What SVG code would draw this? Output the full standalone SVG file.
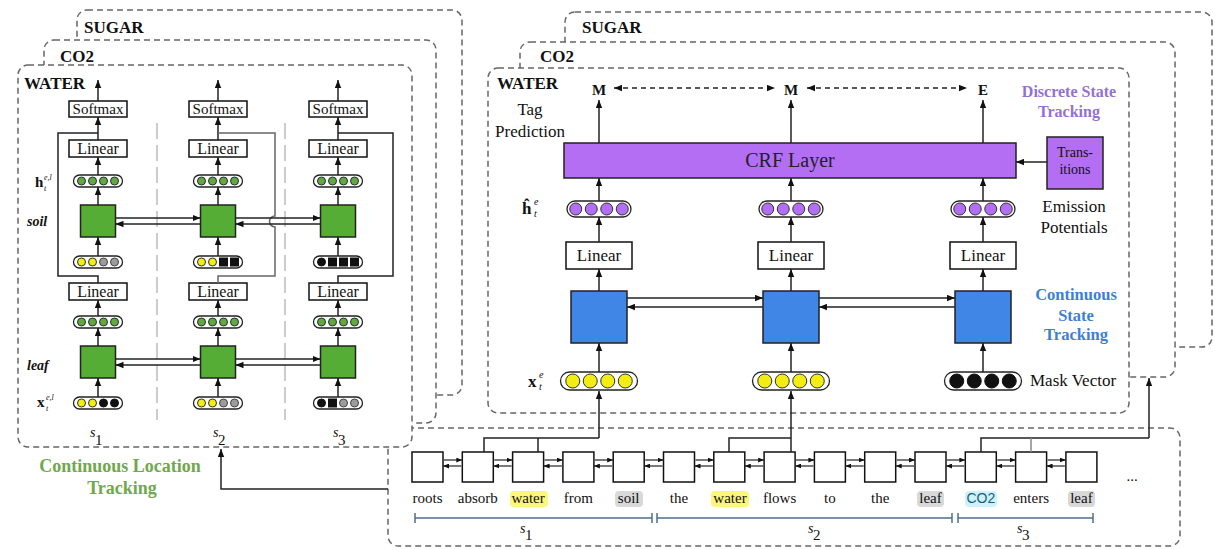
<svg xmlns="http://www.w3.org/2000/svg" width="1215" height="549" viewBox="0 0 1215 549">
<style>
text{font-family:"Liberation Serif","Times New Roman",serif;fill:#111}
.frame{fill:#fff;stroke:#666;stroke-width:1.5;stroke-dasharray:6 4}
.box{fill:#fff;stroke:#111;stroke-width:1.5}
.gbox{fill:#55ad35;stroke:#222;stroke-width:1.5}
.bbox{fill:#3f86e6;stroke:#222;stroke-width:1.5}
.pbox{fill:#b46ef4;stroke:#222;stroke-width:1.5}
.pill{fill:#fff;stroke:#222;stroke-width:1.3}
.g{fill:#62a83f;stroke:#233;stroke-width:1}
.y{fill:#f3ee12;stroke:#333;stroke-width:1}
.k{fill:#111;stroke:#111;stroke-width:1}
.gr{fill:#9c9c9c;stroke:#444;stroke-width:1}
.p{fill:#b46ef4;stroke:#333;stroke-width:1}
.ar{fill:none;stroke:#222;stroke-width:1.5;marker-end:url(#ah)}
.ln{fill:none;stroke:#222;stroke-width:1.5}
.sa{fill:none;stroke:#222;stroke-width:1.2;marker-end:url(#as)}
.sep{stroke:#999;stroke-width:1;stroke-dasharray:16 6}
.brk{stroke:#4d6f8c;stroke-width:1.5;fill:none}
.ttl{font-weight:bold;font-size:17px}
.lab{font-size:17px}
.lin{font-size:16px}
.sm{font-size:15px}
.w{font-size:15px;text-anchor:middle}
.mid{text-anchor:middle}
</style>
<defs>
<marker id="ah" viewBox="0 0 10 8" refX="10" refY="4" markerWidth="8" markerHeight="7" markerUnits="userSpaceOnUse" orient="auto-start-reverse"><path d="M0,0 L10,4 L0,8 z" fill="#111"/></marker>
<marker id="as" viewBox="0 0 10 8" refX="10" refY="4" markerWidth="6" markerHeight="5" markerUnits="userSpaceOnUse" orient="auto"><path d="M0,0 L10,4 L0,8 z" fill="#111"/></marker>
</defs>

<!-- sentence frame -->
<g id="sentence-frame"><rect class="frame" x="388" y="428" width="792" height="118" rx="10"/></g>

<!-- left panel frames -->
<g id="left-sugar"><rect class="frame" x="77" y="10" width="385" height="385" rx="10"/><text class="ttl" x="84" y="33">SUGAR</text></g>
<g id="left-co2"><rect class="frame" x="44" y="40" width="392" height="383" rx="10"/><text class="ttl" x="60" y="62">CO2</text></g>
<g id="left-water"><rect class="frame" x="18" y="65" width="394" height="382" rx="10"/><text class="ttl" x="24" y="89">WATER</text></g>

<!-- right panel frames -->
<g id="right-sugar"><rect class="frame" x="565" y="12" width="647" height="335" rx="10"/><text class="ttl" x="582" y="33">SUGAR</text></g>
<g id="right-co2"><rect class="frame" x="520" y="42" width="655" height="335" rx="10"/><text class="ttl" x="540" y="62">CO2</text></g>
<g id="right-water"><rect class="frame" x="488" y="68" width="641" height="345" rx="10"/><text class="ttl" x="497" y="89">WATER</text></g>

<!-- left panel separators -->
<g id="separators"><line class="sep" x1="157" y1="123" x2="157" y2="420"/><line class="sep" x1="285" y1="123" x2="285" y2="420"/></g>

<!-- left panel labels -->
<g id="left-labels">
<text x="35" y="187" font-weight="bold" font-size="15">h</text><text x="44" y="180" font-size="8" font-style="italic">e,l</text><text x="44" y="191" font-size="8" font-style="italic">t</text>
<text x="27" y="226" font-weight="bold" font-style="italic" font-size="14">soil</text>
<text x="27" y="370" font-weight="bold" font-style="italic" font-size="14">leaf</text>
<text x="37" y="407" font-weight="bold" font-size="15">x</text><text x="46" y="400" font-size="8" font-style="italic">e,l</text><text x="46" y="411" font-size="8" font-style="italic">t</text>
<text x="90" y="437" font-style="italic" font-size="14">s</text><text x="95" y="445" font-size="15">1</text>
<text x="213" y="437" font-style="italic" font-size="14">s</text><text x="218" y="445" font-size="15">2</text>
<text x="333" y="437" font-style="italic" font-size="14">s</text><text x="338" y="445" font-size="15">3</text>
<text x="120" y="472" class="mid" font-weight="bold" font-size="18" style="fill:#70a84c">Continuous Location</text>
<text x="122" y="494" class="mid" font-weight="bold" font-size="18" style="fill:#70a84c">Tracking</text>
</g>

<!-- left column 1 -->
<g id="left-col1">
<rect class="box" x="69" y="101" width="58" height="16"/><text class="sm mid" x="98" y="114">Softmax</text>
<rect class="box" x="69" y="140" width="58" height="17"/><text class="lin mid" x="98" y="154">Linear</text>
<rect class="pill" x="73.5" y="175" width="49" height="12" rx="6"/>
<circle class="g" cx="81.5" cy="181" r="4"/><circle class="g" cx="92.5" cy="181" r="4"/><circle class="g" cx="103.5" cy="181" r="4"/><circle class="g" cx="114.5" cy="181" r="4"/>
<rect class="gbox" x="80.5" y="205" width="35" height="32"/>
<rect class="pill" x="73.5" y="256" width="49" height="12" rx="6"/>
<circle class="y" cx="81.5" cy="262" r="4"/><circle class="y" cx="92.5" cy="262" r="4"/><circle class="gr" cx="103.5" cy="262" r="4"/><circle class="gr" cx="114.5" cy="262" r="4"/>
<rect class="box" x="69" y="283" width="58" height="17"/><text class="lin mid" x="98" y="297">Linear</text>
<rect class="pill" x="73.5" y="316" width="49" height="12" rx="6"/>
<circle class="g" cx="81.5" cy="322" r="4"/><circle class="g" cx="92.5" cy="322" r="4"/><circle class="g" cx="103.5" cy="322" r="4"/><circle class="g" cx="114.5" cy="322" r="4"/>
<rect class="gbox" x="80.5" y="346" width="35" height="32"/>
<rect class="pill" x="73.5" y="397" width="49" height="12" rx="6"/>
<circle class="y" cx="81.5" cy="403" r="4"/><circle class="y" cx="92.5" cy="403" r="4"/><circle class="k" cx="103.5" cy="403" r="4"/><circle class="k" cx="114.5" cy="403" r="4"/>
</g>

<!-- left column 2 -->
<g id="left-col2">
<rect class="box" x="189" y="101" width="58" height="16"/><text class="sm mid" x="218" y="114">Softmax</text>
<rect class="box" x="189" y="140" width="58" height="17"/><text class="lin mid" x="218" y="154">Linear</text>
<rect class="pill" x="193.5" y="175" width="49" height="12" rx="6"/>
<circle class="g" cx="201.5" cy="181" r="4"/><circle class="g" cx="212.5" cy="181" r="4"/><circle class="g" cx="223.5" cy="181" r="4"/><circle class="g" cx="234.5" cy="181" r="4"/>
<rect class="gbox" x="200.5" y="205" width="35" height="32"/>
<rect class="pill" x="193.5" y="256" width="49" height="12" rx="6"/>
<circle class="y" cx="201.5" cy="262" r="4"/><circle class="y" cx="212.5" cy="262" r="4"/><rect class="k" x="219.5" y="258" width="8" height="8"/><rect class="k" x="230.5" y="258" width="8" height="8"/>
<rect class="box" x="189" y="283" width="58" height="17"/><text class="lin mid" x="218" y="297">Linear</text>
<rect class="pill" x="193.5" y="316" width="49" height="12" rx="6"/>
<circle class="g" cx="201.5" cy="322" r="4"/><circle class="g" cx="212.5" cy="322" r="4"/><circle class="g" cx="223.5" cy="322" r="4"/><circle class="g" cx="234.5" cy="322" r="4"/>
<rect class="gbox" x="200.5" y="346" width="35" height="32"/>
<rect class="pill" x="193.5" y="397" width="49" height="12" rx="6"/>
<circle class="y" cx="201.5" cy="403" r="4"/><circle class="y" cx="212.5" cy="403" r="4"/><circle class="gr" cx="223.5" cy="403" r="4"/><circle class="gr" cx="234.5" cy="403" r="4"/>
</g>

<!-- left column 3 -->
<g id="left-col3">
<rect class="box" x="309" y="101" width="58" height="16"/><text class="sm mid" x="338" y="114">Softmax</text>
<rect class="box" x="309" y="140" width="58" height="17"/><text class="lin mid" x="338" y="154">Linear</text>
<rect class="pill" x="313.5" y="175" width="49" height="12" rx="6"/>
<circle class="g" cx="321.5" cy="181" r="4"/><circle class="g" cx="332.5" cy="181" r="4"/><circle class="g" cx="343.5" cy="181" r="4"/><circle class="g" cx="354.5" cy="181" r="4"/>
<rect class="gbox" x="320.5" y="205" width="35" height="32"/>
<rect class="pill" x="313.5" y="256" width="49" height="12" rx="6"/>
<circle class="k" cx="321.5" cy="262" r="4"/><rect class="k" x="328.5" y="258" width="8" height="8"/><rect class="k" x="339.5" y="258" width="8" height="8"/><rect class="k" x="350.5" y="258" width="8" height="8"/>
<rect class="box" x="309" y="283" width="58" height="17"/><text class="lin mid" x="338" y="297">Linear</text>
<rect class="pill" x="313.5" y="316" width="49" height="12" rx="6"/>
<circle class="g" cx="321.5" cy="322" r="4"/><circle class="g" cx="332.5" cy="322" r="4"/><circle class="g" cx="343.5" cy="322" r="4"/><circle class="g" cx="354.5" cy="322" r="4"/>
<rect class="gbox" x="320.5" y="346" width="35" height="32"/>
<rect class="pill" x="313.5" y="397" width="49" height="12" rx="6"/>
<circle class="k" cx="321.5" cy="403" r="4"/><rect class="k" x="328.5" y="399" width="8" height="8"/><circle class="gr" cx="343.5" cy="403" r="4"/><circle class="gr" cx="354.5" cy="403" r="4"/>
</g>

<!-- right panel labels -->
<g id="right-labels">
<text class="lab mid" x="530" y="115">Tag</text><text class="lab mid" x="530" y="137">Prediction</text>
<text class="mid" x="599" y="95" font-weight="bold" font-size="15">M</text>
<text class="mid" x="791" y="95" font-weight="bold" font-size="15">M</text>
<text class="mid" x="983" y="95" font-weight="bold" font-size="15">E</text>
<text class="mid" x="1069" y="97" font-weight="bold" font-size="16" style="fill:#9470d4">Discrete State</text>
<text class="mid" x="1069" y="117" font-weight="bold" font-size="16" style="fill:#9470d4">Tracking</text>
<text class="lab mid" x="1074" y="212">Emission</text><text class="lab mid" x="1074" y="233">Potentials</text>
<text class="mid" x="1076" y="300" font-weight="bold" font-size="16.5" style="fill:#3d7fd6">Continuous</text>
<text class="mid" x="1076" y="321" font-weight="bold" font-size="16.5" style="fill:#3d7fd6">State</text>
<text class="mid" x="1076" y="340" font-weight="bold" font-size="16.5" style="fill:#3d7fd6">Tracking</text>
<text class="lab" x="1030" y="386">Mask Vector</text>
<text x="522" y="214" font-weight="bold" font-size="17">ĥ</text><text x="534" y="205" font-size="10" font-style="italic">e</text><text x="534" y="217" font-size="10" font-style="italic">t</text>
<text x="528" y="387" font-weight="bold" font-size="17">x</text><text x="539" y="378" font-size="10" font-style="italic">e</text><text x="539" y="390" font-size="10" font-style="italic">t</text>
</g>

<g id="crf"><rect class="pbox" x="564" y="143" width="452" height="35"/><text class="mid" x="790" y="167" font-size="20" style="fill:#222">CRF Layer</text></g>
<g id="transitions"><rect class="pbox" x="1047" y="137" width="56" height="52"/><text class="mid" x="1075" y="157" font-size="14">Trans-</text><text class="mid" x="1075" y="174" font-size="14">itions</text></g>

<!-- right column 1 -->
<g id="right-col1">
<rect class="pill" x="567" y="201" width="64" height="16" rx="8"/>
<circle class="p" cx="575.75" cy="209" r="6"/><circle class="p" cx="591.25" cy="209" r="6"/><circle class="p" cx="606.75" cy="209" r="6"/><circle class="p" cx="622.25" cy="209" r="6"/>
<rect class="box" x="566" y="242" width="66" height="27"/><text class="lab mid" x="599" y="261">Linear</text>
<rect class="bbox" x="571" y="291" width="56" height="52"/>
<rect class="pill" x="560.5" y="372" width="77" height="18" rx="9"/>
<circle class="y" cx="572.75" cy="381" r="7"/><circle class="y" cx="590.25" cy="381" r="7"/><circle class="y" cx="607.75" cy="381" r="7"/><circle class="y" cx="625.25" cy="381" r="7"/>
</g>
<g id="right-col2">
<rect class="pill" x="759" y="201" width="64" height="16" rx="8"/>
<circle class="p" cx="767.75" cy="209" r="6"/><circle class="p" cx="783.25" cy="209" r="6"/><circle class="p" cx="798.75" cy="209" r="6"/><circle class="p" cx="814.25" cy="209" r="6"/>
<rect class="box" x="758" y="242" width="66" height="27"/><text class="lab mid" x="791" y="261">Linear</text>
<rect class="bbox" x="763" y="291" width="56" height="52"/>
<rect class="pill" x="752.5" y="372" width="77" height="18" rx="9"/>
<circle class="y" cx="764.75" cy="381" r="7"/><circle class="y" cx="782.25" cy="381" r="7"/><circle class="y" cx="799.75" cy="381" r="7"/><circle class="y" cx="817.25" cy="381" r="7"/>
</g>
<g id="right-col3">
<rect class="pill" x="951" y="201" width="64" height="16" rx="8"/>
<circle class="p" cx="959.75" cy="209" r="6"/><circle class="p" cx="975.25" cy="209" r="6"/><circle class="p" cx="990.75" cy="209" r="6"/><circle class="p" cx="1006.25" cy="209" r="6"/>
<rect class="box" x="950" y="242" width="66" height="27"/><text class="lab mid" x="983" y="261">Linear</text>
<rect class="bbox" x="955" y="291" width="56" height="52"/>
<rect class="pill" x="944.5" y="372" width="77" height="18" rx="9"/>
<circle class="k" cx="956.75" cy="381" r="7"/><circle class="k" cx="974.25" cy="381" r="7"/><circle class="k" cx="991.75" cy="381" r="7"/><circle class="k" cx="1009.25" cy="381" r="7"/>
</g>

<!-- sentence -->
<g id="sentence">
<rect x="510" y="491" width="38" height="16" rx="4" fill="#fbf77a"/>
<rect x="615" y="491" width="28" height="16" rx="4" fill="#d9d9d9"/>
<rect x="711" y="491" width="38" height="16" rx="4" fill="#fbf77a"/>
<rect x="917" y="491" width="27" height="16" rx="4" fill="#d9d9d9"/>
<rect x="965" y="491" width="32" height="16" rx="4" fill="#ccf3f8"/>
<rect x="1068" y="491" width="27" height="16" rx="4" fill="#d9d9d9"/>
<rect class="box" x="412" y="452" width="31" height="30"/>
<rect class="box" x="462.3" y="452" width="31" height="30"/>
<rect class="box" x="512.6" y="452" width="31" height="30"/>
<rect class="box" x="562.9" y="452" width="31" height="30"/>
<rect class="box" x="613.2" y="452" width="31" height="30"/>
<rect class="box" x="663.5" y="452" width="31" height="30"/>
<rect class="box" x="713.8" y="452" width="31" height="30"/>
<rect class="box" x="764.1" y="452" width="31" height="30"/>
<rect class="box" x="814.4" y="452" width="31" height="30"/>
<rect class="box" x="864.7" y="452" width="31" height="30"/>
<rect class="box" x="915" y="452" width="31" height="30"/>
<rect class="box" x="965.3" y="452" width="31" height="30"/>
<rect class="box" x="1015.6" y="452" width="31" height="30"/>
<rect class="box" x="1065.9" y="452" width="31" height="30"/>
<text class="w" x="427.5" y="503">roots</text>
<text class="w" x="477.8" y="503">absorb</text>
<text class="w" x="528.1" y="503">water</text>
<text class="w" x="578.4" y="503">from</text>
<text class="w" x="628.7" y="503">soil</text>
<text class="w" x="679" y="503">the</text>
<text class="w" x="730" y="503">water</text>
<text class="w" x="779.6" y="503">flows</text>
<text class="w" x="829.9" y="503">to</text>
<text class="w" x="880.2" y="503">the</text>
<text class="w" x="930.5" y="503">leaf</text>
<text x="980.8" y="503" text-anchor="middle" font-size="14" style="font-family:'Liberation Sans',Arial,sans-serif;fill:#1f5a80">CO2</text>
<text class="w" x="1031.1" y="503">enters</text>
<text class="w" x="1081.4" y="503">leaf</text>
<text class="w" x="1132" y="481">...</text>
<path class="brk" d="M415,518 H652 M415,513 V523 M652,513 V523 M657,518 H952 M657,513 V523 M952,513 V523 M958,518 H1093 M958,513 V523 M1093,513 V523"/>
<text x="520" y="533" font-style="italic" font-size="14">s</text><text x="525" y="540" font-size="15">1</text>
<text x="808" y="533" font-style="italic" font-size="14">s</text><text x="813" y="540" font-size="15">2</text>
<text x="1017" y="533" font-style="italic" font-size="14">s</text><text x="1022" y="540" font-size="15">3</text>
</g>

<!-- connectors -->
<g id="connectors">
<line class="ar" x1="98" y1="101" x2="98" y2="80"/><line class="ar" x1="218" y1="101" x2="218" y2="80"/><line class="ar" x1="338" y1="101" x2="338" y2="80"/>
<line class="ar" x1="98" y1="140" x2="98" y2="117"/><line class="ar" x1="218" y1="140" x2="218" y2="117"/><line class="ar" x1="338" y1="140" x2="338" y2="117"/>
<line class="ar" x1="98" y1="175" x2="98" y2="157"/><line class="ar" x1="218" y1="175" x2="218" y2="157"/><line class="ar" x1="338" y1="175" x2="338" y2="157"/>
<line class="ar" x1="98" y1="205" x2="98" y2="187"/><line class="ar" x1="218" y1="205" x2="218" y2="187"/><line class="ar" x1="338" y1="205" x2="338" y2="187"/>
<line class="ar" x1="98" y1="256" x2="98" y2="237"/><line class="ar" x1="218" y1="256" x2="218" y2="237"/><line class="ar" x1="338" y1="256" x2="338" y2="237"/>
<line class="ar" x1="98" y1="316" x2="98" y2="300"/><line class="ar" x1="218" y1="316" x2="218" y2="300"/><line class="ar" x1="338" y1="316" x2="338" y2="300"/>
<line class="ar" x1="98" y1="346" x2="98" y2="328"/><line class="ar" x1="218" y1="346" x2="218" y2="328"/><line class="ar" x1="338" y1="346" x2="338" y2="328"/>
<line class="ar" x1="98" y1="397" x2="98" y2="378"/><line class="ar" x1="218" y1="397" x2="218" y2="378"/><line class="ar" x1="338" y1="397" x2="338" y2="378"/>
<path class="ln" d="M98,283 V276 H58 V133 H98"/>
<path class="ln" style="stroke:#666" d="M218,283 V276 H275 V227 A5.5,5.5 0 0 1 275,216 V133 H218"/>
<path class="ln" d="M338,283 V276 H393 V133 H338"/>
<line class="ar" x1="115.5" y1="218" x2="200.5" y2="218"/><line class="ar" x1="200.5" y1="224" x2="115.5" y2="224"/>
<line class="ar" x1="235.5" y1="218" x2="320.5" y2="218"/><line class="ar" x1="320.5" y1="224" x2="235.5" y2="224"/>
<line class="ar" x1="115.5" y1="359" x2="200.5" y2="359"/><line class="ar" x1="200.5" y1="365" x2="115.5" y2="365"/>
<line class="ar" x1="235.5" y1="359" x2="320.5" y2="359"/><line class="ar" x1="320.5" y1="365" x2="235.5" y2="365"/>
<line class="ar" x1="599" y1="143" x2="599" y2="100"/><line class="ar" x1="791" y1="143" x2="791" y2="100"/><line class="ar" x1="983" y1="143" x2="983" y2="100"/>
<line class="ar" style="stroke-dasharray:5 4;marker-start:url(#ah)" x1="614" y1="88" x2="775" y2="88"/>
<line class="ar" style="stroke-dasharray:5 4;marker-start:url(#ah)" x1="807" y1="88" x2="967" y2="88"/>
<line class="ar" x1="1047" y1="162" x2="1016" y2="162"/>
<line class="ar" x1="599" y1="201" x2="599" y2="178"/><line class="ar" x1="791" y1="201" x2="791" y2="178"/><line class="ar" x1="983" y1="201" x2="983" y2="178"/>
<line class="ar" x1="599" y1="242" x2="599" y2="217"/><line class="ar" x1="791" y1="242" x2="791" y2="217"/><line class="ar" x1="983" y1="242" x2="983" y2="217"/>
<line class="ar" x1="599" y1="291" x2="599" y2="269"/><line class="ar" x1="791" y1="291" x2="791" y2="269"/><line class="ar" x1="983" y1="291" x2="983" y2="269"/>
<line class="ar" x1="599" y1="372" x2="599" y2="343"/><line class="ar" x1="791" y1="372" x2="791" y2="343"/><line class="ar" x1="983" y1="372" x2="983" y2="343"/>
<line class="ar" x1="627" y1="298" x2="763" y2="298"/><line class="ar" x1="763" y1="307" x2="627" y2="307"/>
<line class="ar" x1="819" y1="298" x2="955" y2="298"/><line class="ar" x1="955" y1="307" x2="819" y2="307"/>
<path class="ln" d="M484,452 V438 H599"/><path class="ln" d="M538,452 V438"/><path class="ar" d="M599,438 V391"/>
<path class="ln" d="M729,452 V438 H791"/><path class="ar" d="M791,452 V391"/>
<path class="ln" d="M981,452 V438 H1149"/><path class="ln" style="stroke:#888" d="M1031,452 V438"/><path class="ar" d="M1149,438 V378"/>
<path class="ar" d="M388,489 H221 V449"/>
<line class="sa" x1="444" y1="460" x2="462.3" y2="460"/><line class="sa" x1="461.3" y1="466" x2="443" y2="466"/>
<line class="sa" x1="494.3" y1="460" x2="512.6" y2="460"/><line class="sa" x1="511.6" y1="466" x2="493.3" y2="466"/>
<line class="sa" x1="544.6" y1="460" x2="562.9" y2="460"/><line class="sa" x1="561.9" y1="466" x2="543.6" y2="466"/>
<line class="sa" x1="594.9" y1="460" x2="613.2" y2="460"/><line class="sa" x1="612.2" y1="466" x2="593.9" y2="466"/>
<line class="sa" x1="645.2" y1="460" x2="663.5" y2="460"/><line class="sa" x1="662.5" y1="466" x2="644.2" y2="466"/>
<line class="sa" x1="695.5" y1="460" x2="713.8" y2="460"/><line class="sa" x1="712.8" y1="466" x2="694.5" y2="466"/>
<line class="sa" x1="745.8" y1="460" x2="764.1" y2="460"/><line class="sa" x1="763.1" y1="466" x2="744.8" y2="466"/>
<line class="sa" x1="796.1" y1="460" x2="814.4" y2="460"/><line class="sa" x1="813.4" y1="466" x2="795.1" y2="466"/>
<line class="sa" x1="846.4" y1="460" x2="864.7" y2="460"/><line class="sa" x1="863.7" y1="466" x2="845.4" y2="466"/>
<line class="sa" x1="896.7" y1="460" x2="915" y2="460"/><line class="sa" x1="914" y1="466" x2="895.7" y2="466"/>
<line class="sa" x1="947" y1="460" x2="965.3" y2="460"/><line class="sa" x1="964.3" y1="466" x2="946" y2="466"/>
<line class="sa" x1="997.3" y1="460" x2="1015.6" y2="460"/><line class="sa" x1="1014.6" y1="466" x2="996.3" y2="466"/>
<line class="sa" x1="1047.6" y1="460" x2="1065.9" y2="460"/><line class="sa" x1="1064.9" y1="466" x2="1046.6" y2="466"/>
</g>
</svg>
